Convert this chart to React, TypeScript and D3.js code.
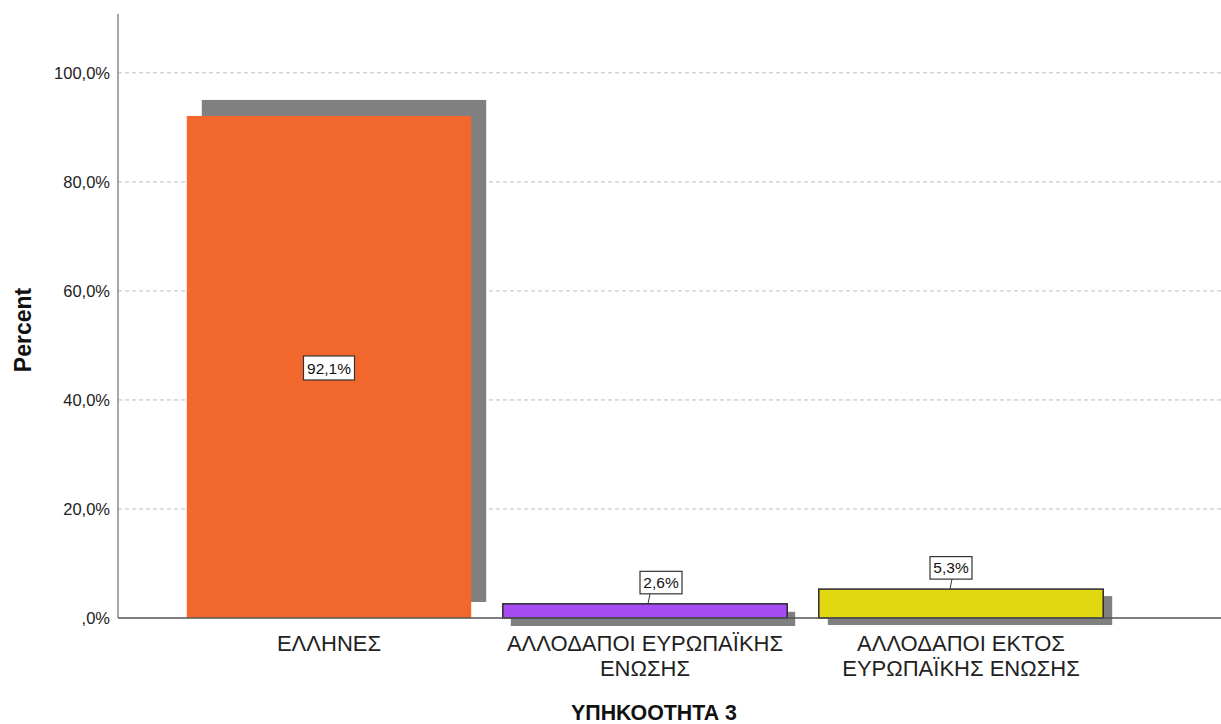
import React from 'react';
import * as d3 from 'd3';

const categories = ['ΕΛΛΗΝΕΣ', 'ΑΛΛΟΔΑΠΟΙ ΕΥΡΩΠΑΪΚΗΣ ΕΝΩΣΗΣ', 'ΑΛΛΟΔΑΠΟΙ ΕΚΤΟΣ ΕΥΡΩΠΑΪΚΗΣ ΕΝΩΣΗΣ'];
const categoryLines = [['ΕΛΛΗΝΕΣ'], ['ΑΛΛΟΔΑΠΟΙ ΕΥΡΩΠΑΪΚΗΣ', 'ΕΝΩΣΗΣ'], ['ΑΛΛΟΔΑΠΟΙ ΕΚΤΟΣ', 'ΕΥΡΩΠΑΪΚΗΣ ΕΝΩΣΗΣ']];
const percents = [92.1, 2.6, 5.3];
const valueLabels = ['92,1%', '2,6%', '5,3%'];
const yTicks = [0, 20, 40, 60, 80, 100];
const yTickLabels = [',0%', '20,0%', '40,0%', '60,0%', '80,0%', '100,0%'];

const barColors = ['#F2672B', '#A64AF2', '#E2D80F'];
const barStroke = [false, true, true];
// SPSS-like shadow offsets per bar (px)
const shadowOffsets = [[15, -16], [8, 8], [9, 7]];
// label / leader nudges for the small bars
const labelDx = [0, 16, -10];
const leaderDx = [0, 5, -9];

const W = 1221;
const H = 724;
const baseY = 618;
const axisX = 118;

const sans = '"Liberation Sans", Arial, sans-serif';

export default function App() {
  const y = d3.scaleLinear().domain([0, 110.8]).range([baseY, 14]);
  const x = d3.scaleBand<string>().domain(categories).range([171, 1119]).paddingInner(0.1).paddingOuter(0.05);
  const bw = x.bandwidth();

  return (
    <svg width={W} height={H} style={{ position: 'absolute', left: 0, top: 0, background: '#fff' }}>
      {/* gridlines */}
      {yTicks.filter(t => t > 0).map(t => (
        <line key={t} x1={axisX} x2={W} y1={y(t)} y2={y(t)} stroke="#bdbdbd" strokeWidth={1} strokeDasharray="4,3" />
      ))}
      {/* tick labels */}
      {yTicks.map((t, i) => (
        <text key={t} x={110} y={y(t)} dy="0.35em" textAnchor="end" fontFamily={sans} fontSize={16.5} fill="#222">
          {yTickLabels[i]}
        </text>
      ))}

      {/* shadows */}
      {categories.map((c, i) => {
        const top = y(percents[i]);
        const [dx, dy] = shadowOffsets[i];
        return (
          <rect key={'s' + c} x={(x(c) as number) + dx} y={top + dy} width={bw} height={baseY - top} fill="#808080" />
        );
      })}

      {/* bars */}
      {categories.map((c, i) => {
        const top = y(percents[i]);
        return (
          <rect key={c} x={x(c) as number} y={top} width={bw} height={baseY - top} fill={barColors[i]}
            stroke={barStroke[i] ? '#2a2a2a' : 'none'} strokeWidth={1.5} />
        );
      })}

      {/* axes */}
      <line x1={axisX} x2={W} y1={baseY} y2={baseY} stroke="#555" strokeWidth={1.5} />
      <line x1={axisX} x2={axisX} y1={14} y2={baseY} stroke="#8a8a8a" strokeWidth={1.5} />

      {/* value labels */}
      {categories.map((c, i) => {
        const top = y(percents[i]);
        const cx = (x(c) as number) + bw / 2;
        const inside = baseY - top > 40;
        const bh = inside ? 24 : 22.5;
        const boxW = valueLabels[i].length > 4 ? 51 : 42;
        const lx = cx + labelDx[i];
        const cy = inside ? (top + baseY) / 2 + 1 : top - 10 - bh / 2;
        return (
          <g key={'l' + c}>
            {!inside && (
              <line x1={cx + leaderDx[i]} x2={cx + leaderDx[i] - 2} y1={cy + bh / 2} y2={top} stroke="#333" strokeWidth={1} />
            )}
            <rect x={lx - boxW / 2} y={cy - bh / 2} width={boxW} height={bh} fill="#fff" stroke="#333" strokeWidth={1.2} />
            <text x={lx} y={cy} dy="0.36em" textAnchor="middle" fontFamily={sans} fontSize={15.5} fill="#111">
              {valueLabels[i]}
            </text>
          </g>
        );
      })}

      {/* category labels */}
      {categories.map((c, i) => {
        const cx = (x(c) as number) + bw / 2;
        return (
          <text key={'c' + c} x={cx} y={651} textAnchor="middle" fontFamily={sans} fontSize={22} fill="#222">
            {categoryLines[i].map((ln, j) => (
              <tspan key={j} x={cx} dy={j === 0 ? 0 : 25}>{ln}</tspan>
            ))}
          </text>
        );
      })}

      {/* axis titles */}
      <g transform="translate(654,720) scale(0.93,1)">
        <text x={0} y={0} textAnchor="middle" fontFamily={sans} fontWeight="bold" fontSize={23} fill="#111">
          ΥΠΗΚΟΟΤΗΤΑ 3
        </text>
      </g>
      <text transform="translate(31,330) rotate(-90)" textAnchor="middle" fontFamily={sans} fontWeight="bold" fontSize={23} fill="#111">
        Percent
      </text>
    </svg>
  );
}
